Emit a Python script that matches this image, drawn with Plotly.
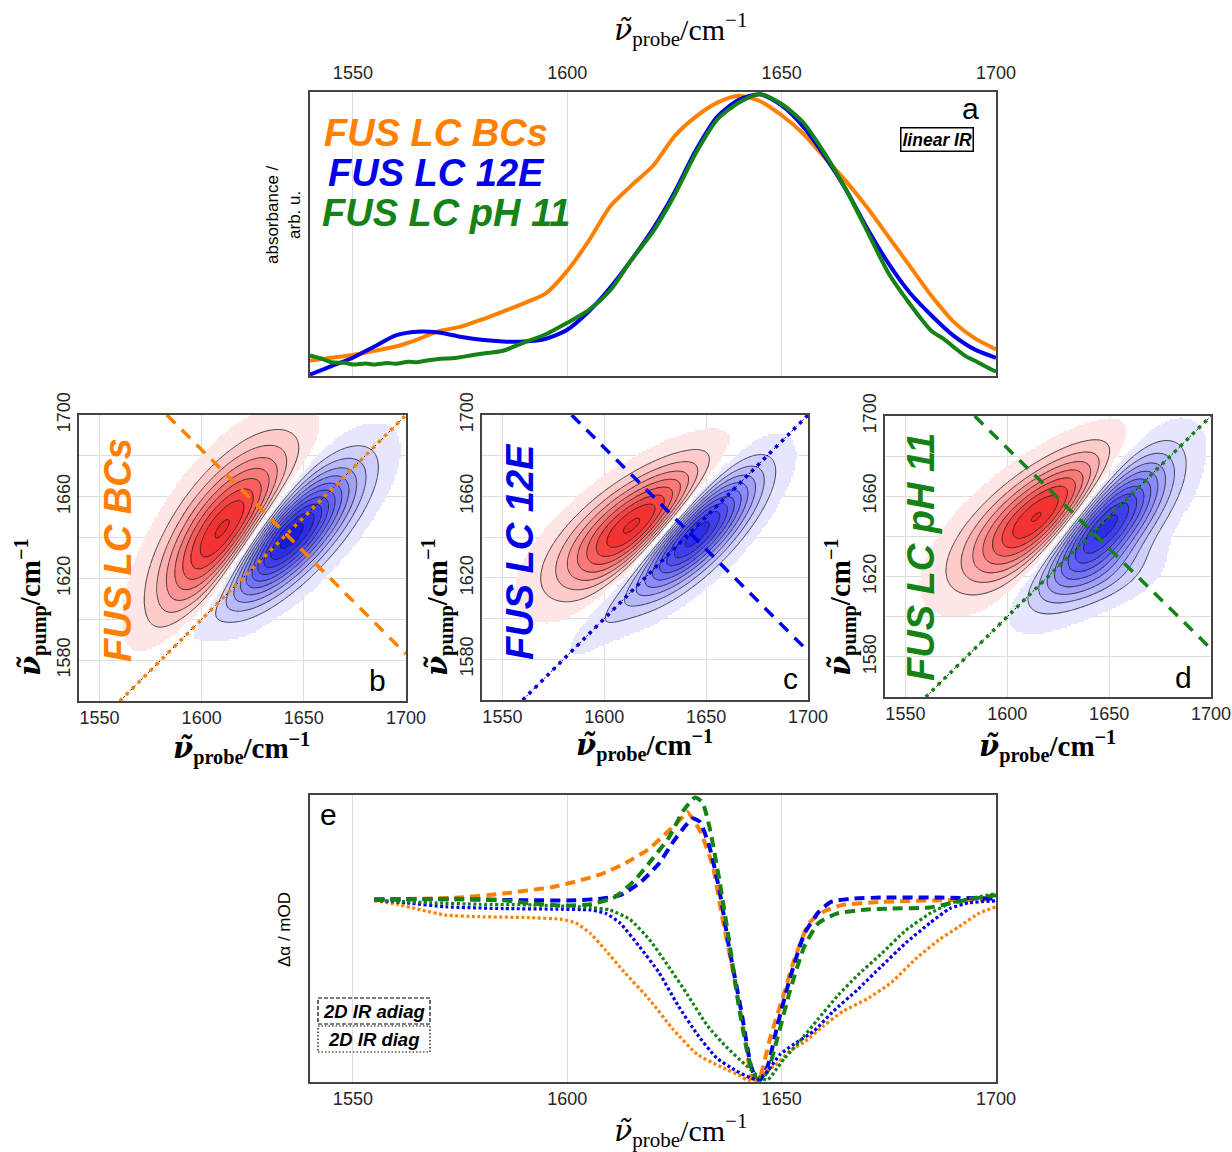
import numpy as np
import plotly.graph_objects as go

# ---------------- colours ----------------
C_BCS = "rgb(255,128,0)"
C_12E = "rgb(0,0,235)"
C_PH11 = "rgb(20,130,20)"

# ---------------- panel a : linear IR (normalised) ----------------
wn_a = [1540, 1545, 1550, 1555, 1560, 1565, 1570, 1575, 1580, 1585, 1590, 1595,
        1600, 1605, 1610, 1615, 1620, 1625, 1630, 1635, 1640, 1645, 1650, 1655,
        1660, 1665, 1670, 1675, 1680, 1685, 1690, 1695, 1700]
abs_bcs = [0.05, 0.06, 0.07, 0.085, 0.10, 0.125, 0.155, 0.17, 0.196, 0.225, 0.255, 0.29,
           0.37, 0.477, 0.60, 0.675, 0.745, 0.85, 0.92, 0.97, 0.995, 0.975, 0.925, 0.86,
           0.775, 0.69, 0.595, 0.49, 0.385, 0.28, 0.19, 0.13, 0.09]
abs_12e = [0.0, 0.03, 0.06, 0.10, 0.14, 0.153, 0.15, 0.135, 0.124, 0.118, 0.118, 0.128,
           0.16, 0.225, 0.31, 0.41, 0.52, 0.65, 0.80, 0.92, 0.98, 1.0, 0.96, 0.885,
           0.78, 0.66, 0.52, 0.395, 0.29, 0.21, 0.14, 0.09, 0.06]
wn_a_ph = [1540, 1543, 1545, 1548, 1550, 1553, 1555, 1558, 1560, 1563, 1565, 1568, 1570,
           1573, 1575, 1578, 1580, 1585, 1590, 1595, 1600, 1605, 1610, 1615, 1620, 1625,
           1630, 1635, 1640, 1645, 1650, 1655, 1660, 1665, 1670, 1675, 1680, 1683, 1685,
           1688, 1690, 1693, 1695, 1698, 1700]
abs_ph11 = [0.068, 0.055, 0.044, 0.042, 0.036, 0.040, 0.036, 0.041, 0.039, 0.046, 0.044,
            0.052, 0.056, 0.058, 0.062, 0.070, 0.074, 0.085, 0.115, 0.144, 0.185, 0.23,
            0.30, 0.41, 0.51, 0.64, 0.79, 0.91, 0.97, 1.0, 0.965, 0.90, 0.79, 0.66, 0.51,
            0.36, 0.25, 0.19, 0.155, 0.125, 0.10, 0.065, 0.05, 0.025, 0.01]

# ---------------- panels b-d : 2D IR peak parameters ----------------
# each peak: centre probe, centre pump, amplitude, sigma major, sigma minor, angle (deg)
peaks_bcs = dict(x0=[1640, 1612, 1596], y0=[1639, 1641, 1596], amp=[-1.0, 0.78, -0.08],
                 smaj=[30, 31, 22], smin=[11, 14, 6], ang=[45, 56, 45])
peaks_12e = dict(x0=[1644, 1618, 1600], y0=[1643, 1646, 1600], amp=[-1.0, 0.76, -0.07],
                 smaj=[27, 30, 20], smin=[10, 12.5, 6], ang=[45, 35, 45])
peaks_ph11 = dict(x0=[1647, 1621, 1650], y0=[1648, 1651, 1620], amp=[-1.0, 0.80, -0.12],
                  smaj=[28, 31, 18], smin=[12, 13, 9], ang=[48, 36, 20])
diag_line = [1560, 1700]
adiag_cross = [1641.5, 1642, 1642]

# ---------------- panel e : diagonal / antidiagonal cuts ----------------
x_ad_bcs = [1555, 1574, 1585, 1596.5, 1602, 1607.8, 1613.4, 1619, 1623.6, 1627, 1628, 1631,
            1634, 1636, 1639, 1641.7, 1643, 1644, 1645, 1647.3, 1650.7, 1653, 1656.4, 1659.8,
            1664, 1673, 1687, 1700]
y_ad_bcs = [0, 0.01, 0.033, 0.07, 0.10, 0.14, 0.20, 0.28, 0.38, 0.46, 0.485, 0.38, 0.18,
            -0.08, -0.44, -0.80, -0.99, -1.0, -0.98, -0.77, -0.51, -0.33, -0.13, -0.067,
            -0.031, -0.013, -0.004, 0.0]
x_ad_12e = [1555, 1574, 1590.8, 1602, 1607.8, 1612.3, 1616.8, 1621.4, 1624.7, 1627.6, 1629.3,
            1631, 1633.2, 1635.5, 1637.7, 1640.6, 1642.8, 1644, 1645, 1646.8, 1649, 1651.9,
            1655.3, 1658.6, 1661.5, 1666.6, 1673.3, 1687, 1700]
y_ad_12e = [0, 0.002, -0.004, -0.004, 0.005, 0.024, 0.09, 0.20, 0.32, 0.41, 0.45, 0.43, 0.29,
            0.05, -0.26, -0.62, -0.92, -0.99, -1.0, -0.92, -0.70, -0.44, -0.19, -0.07, -0.013,
            0.005, 0.011, 0.011, 0.005]
x_ad_ph11 = [1555, 1574, 1585, 1592, 1598.8, 1605.5, 1611.2, 1615.7, 1619, 1623.6, 1627,
             1629.8, 1631.5, 1633.2, 1635.5, 1637.7, 1640, 1642.3, 1644, 1645, 1646.8, 1649,
             1651.9, 1655.3, 1658.6, 1663, 1670, 1675.6, 1684.6, 1689, 1694.8, 1700]
y_ad_ph11 = [0, 0.004, -0.004, -0.022, -0.033, -0.026, 0.015, 0.106, 0.20, 0.34, 0.49, 0.566,
             0.54, 0.40, 0.106, -0.22, -0.59, -0.88, -0.99, -1.0, -0.95, -0.77, -0.51, -0.26,
             -0.13, -0.077, -0.055, -0.05, -0.044, -0.022, 0.005, 0.024]
x_d_bcs = [1555, 1560.3, 1566, 1571.6, 1579.5, 1590.8, 1598.8, 1602, 1605.5, 1608.9, 1613.4,
           1619, 1624.7, 1630.4, 1636, 1640.6, 1641.7, 1644, 1646.2, 1648.5, 1651.9, 1655.3,
           1659.8, 1664.3, 1670, 1675.6, 1681.2, 1686.9, 1691.4, 1696, 1700]
y_d_bcs = [-0.007, -0.026, -0.058, -0.086, -0.095, -0.10, -0.11, -0.13, -0.19, -0.28, -0.405,
           -0.55, -0.72, -0.86, -0.93, -0.98, -1.0, -1.0, -0.95, -0.92, -0.84, -0.79, -0.70,
           -0.62, -0.55, -0.46, -0.33, -0.22, -0.15, -0.077, -0.04]
x_d_12e = [1555, 1562.6, 1571.6, 1585.2, 1596.5, 1605.5, 1609, 1612.3, 1616.8, 1621.4, 1625.9,
           1630.4, 1634.9, 1639.4, 1642.8, 1644.5, 1646.8, 1649.6, 1653, 1657.5, 1662, 1667.7,
           1673.3, 1679, 1684.6, 1689.2, 1693.7, 1700]
y_d_12e = [-0.004, -0.018, -0.04, -0.05, -0.053, -0.058, -0.077, -0.13, -0.26, -0.405, -0.59,
           -0.75, -0.88, -0.95, -0.99, -1.0, -0.95, -0.86, -0.80, -0.73, -0.62, -0.50, -0.37,
           -0.24, -0.13, -0.05, -0.018, -0.007]
x_d_ph11 = [1555, 1568.2, 1579.5, 1592, 1605.5, 1610, 1614.6, 1619.1, 1623.6, 1628.1, 1632.7,
            1637.2, 1641.7, 1645.1, 1646.8, 1648.5, 1650.7, 1654.1, 1658.6, 1663.2, 1667.7,
            1673.3, 1679, 1684.6, 1689.2, 1693.7, 1700]
y_d_ph11 = [-0.004, -0.018, -0.026, -0.03, -0.044, -0.058, -0.11, -0.22, -0.37, -0.53, -0.70,
            -0.82, -0.92, -0.99, -1.0, -0.95, -0.88, -0.79, -0.66, -0.53, -0.42, -0.30, -0.17,
            -0.077, -0.022, 0.005, 0.033]

# ---------------- helpers ----------------
W, H = 1232, 1152
def px(x):
    return x / W
def py(y):
    return 1 - y / H

probe_grid = np.arange(1540, 1700.01, 1.0)
pump_grid = np.arange(1560, 1700.01, 1.0)

def spectrum2d(p):
    X, Y = np.meshgrid(probe_grid, pump_grid)
    Z = np.zeros_like(X)
    for x0, y0, a, sM, sm, ang in zip(p["x0"], p["y0"], p["amp"], p["smaj"], p["smin"], p["ang"]):
        t = np.deg2rad(ang)
        dx, dy = X - x0, Y - y0
        u = dx * np.cos(t) + dy * np.sin(t)
        v = -dx * np.sin(t) + dy * np.cos(t)
        Z += a * np.exp(-(u ** 2 / (2 * sM ** 2) + v ** 2 / (2 * sm ** 2)))
    return Z

STEP = 0.08
FIRST = 0.04
def banded(Z):
    a = np.abs(Z)
    n = np.floor((a - FIRST) / STEP)
    Q = np.sign(Z) * (FIRST + STEP * n + STEP / 2)
    Q[a < FIRST] = np.nan
    return Q

fill_scale = [[0.0, "rgb(0,0,225)"], [0.25, "rgb(110,110,250)"], [0.46, "rgb(230,230,255)"],
              [0.5, "rgb(255,255,255)"],
              [0.54, "rgb(255,230,230)"], [0.79, "rgb(246,60,60)"], [1.0, "rgb(225,0,0)"]]

TICKFONT = dict(family="Liberation Sans, Arial", size=18, color="#262626")
SERIF = "Liberation Serif, DejaVu Serif, serif"
SANS = "Liberation Sans, Arial, sans-serif"
GRID = "#dedede"
FRAME = "#444444"

fig = go.Figure()

# panel a
for x, y, c in [(wn_a, abs_bcs, C_BCS), (wn_a, abs_12e, C_12E), (wn_a_ph, abs_ph11, C_PH11)]:
    fig.add_trace(go.Scatter(x=x, y=y, mode="lines", line=dict(color=c, width=4, shape="spline", smoothing=0.7),
                             xaxis="x", yaxis="y", showlegend=False, hoverinfo="skip"))

# panels b-d
panels = [(peaks_bcs, C_BCS, "2"), (peaks_12e, C_12E, "3"), (peaks_ph11, C_PH11, "4")]
for (p, col, k), xc in zip(panels, adiag_cross):
    Z = spectrum2d(p)
    fig.add_trace(go.Heatmap(x=probe_grid, y=pump_grid, z=banded(Z), xaxis="x" + k, yaxis="y" + k,
                             colorscale=fill_scale, zmin=-1, zmax=1, showscale=False, hoverinfo="skip"))
    for s, e in [(-0.92, -0.12), (0.12, 0.92)]:
        fig.add_trace(go.Contour(x=probe_grid, y=pump_grid, z=Z, xaxis="x" + k, yaxis="y" + k,
                                 showscale=False, autocontour=False,
                                 contours=dict(start=s, end=e, size=STEP, coloring="none"),
                                 line=dict(color="#1a1a1a", width=0.8), hoverinfo="skip"))
    fig.add_trace(go.Scatter(x=diag_line, y=diag_line, mode="lines", xaxis="x" + k, yaxis="y" + k,
                             line=dict(color="black", width=1, dash="2px,3px"), showlegend=False, hoverinfo="skip"))
    fig.add_trace(go.Scatter(x=diag_line, y=diag_line, mode="lines", xaxis="x" + k, yaxis="y" + k,
                             line=dict(color=col, width=3.5, dash="3.5px,5px"), showlegend=False, hoverinfo="skip"))
    ad_x = [2 * xc - 1700, 1700]
    ad_y = [1700, 2 * xc - 1700]
    fig.add_trace(go.Scatter(x=ad_x, y=ad_y, mode="lines", xaxis="x" + k, yaxis="y" + k,
                             line=dict(color=col, width=3.5, dash="12px,9px"), showlegend=False, hoverinfo="skip"))

# panel e
for x, y, c in [(x_ad_bcs, y_ad_bcs, C_BCS), (x_ad_12e, y_ad_12e, C_12E), (x_ad_ph11, y_ad_ph11, C_PH11)]:
    fig.add_trace(go.Scatter(x=x, y=y, mode="lines", xaxis="x5", yaxis="y5", showlegend=False, hoverinfo="skip",
                             line=dict(color=c, width=4, dash="10px,6px", shape="spline", smoothing=0.5)))
for x, y, c in [(x_d_bcs, y_d_bcs, C_BCS), (x_d_12e, y_d_12e, C_12E), (x_d_ph11, y_d_ph11, C_PH11)]:
    fig.add_trace(go.Scatter(x=x, y=y, mode="lines", xaxis="x5", yaxis="y5", showlegend=False, hoverinfo="skip",
                             line=dict(color=c, width=3.2, dash="3px,2.5px", shape="spline", smoothing=0.5)))

# ---------------- axes ----------------
common_x = dict(range=[1540, 1700], tickvals=[1550, 1600, 1650, 1700], showgrid=True, gridcolor=GRID,
                gridwidth=1, showline=True, mirror=True, linecolor=FRAME, linewidth=1.5, ticks="",
                tickfont=TICKFONT, zeroline=False, automargin=False)
layout = dict(
    template="none",
    width=W, height=H, margin=dict(l=0, r=0, t=0, b=0, pad=0, autoexpand=False),
    paper_bgcolor="white", plot_bgcolor="white", showlegend=False,
    xaxis=dict(domain=[px(310), px(996)], anchor="y", side="top", ticklabelstandoff=4, **common_x),
    yaxis=dict(domain=[py(376), py(92)], anchor="x", range=[-0.005, 1.008], showticklabels=False,
               showgrid=False, zeroline=False, showline=True, mirror=True, linecolor=FRAME, linewidth=1.5,
               ticks="", automargin=False),
    xaxis5=dict(domain=[px(310), px(996)], anchor="y5", **common_x),
    yaxis5=dict(domain=[py(1082), py(795)], anchor="x5", range=[-1.012, 0.58], showticklabels=False,
                showgrid=False, zeroline=False, showline=True, mirror=True, linecolor=FRAME, linewidth=1.5,
                ticks="", automargin=False),
)
dom2d = {"2": ([79, 406], [701, 415]), "3": ([482, 808], [700, 415]), "4": ([885, 1211], [697, 416])}
for k, (dx, dy) in dom2d.items():
    layout["xaxis" + k] = dict(domain=[px(dx[0]), px(dx[1])], anchor="y" + k, **common_x)
    layout["yaxis" + k] = dict(domain=[py(dy[0]), py(dy[1])], anchor="x" + k, range=[1560, 1700],
                               tickvals=[1580, 1620, 1660, 1700], tickangle=-90, showgrid=True, gridcolor=GRID,
                               minor=dict(tick0=1560, dtick=20, showgrid=True, gridcolor=GRID, ticks=""),
                               showline=True, mirror=True, linecolor=FRAME, linewidth=1.5, ticks="",
                               tickfont=TICKFONT, zeroline=False, automargin=False)
fig.update_layout(**layout)

# ---------------- annotations ----------------
ann = []
def A(x, y, text, size, color="black", family=SANS, angle=0, xanchor="center", **kw):
    ann.append(dict(x=px(x), y=py(y), xref="paper", yref="paper", text=text, showarrow=False,
                    font=dict(size=size, color=color, family=family), textangle=angle,
                    xanchor=xanchor, yanchor="middle", **kw))

NU = "<span style='font-family:DejaVu Serif'><i>ν\u0303</i></span>"
probe_t = NU + "<sub>probe</sub>/cm<sup>\u22121</sup>"
pump_t = NU + "<sub>pump</sub>/cm<sup>\u22121</sup>"
A(680, 30, probe_t, 30, family=SERIF)
A(680, 1130, probe_t, 30, family=SERIF)
for xc, yc in [(241, 748), (644, 745), (1047, 746)]:
    A(xc, yc, "<b>" + probe_t + "</b>", 29, family=SERIF)
for xc in [30, 437, 840]:
    A(xc, 607, "<b>" + pump_t + "</b>", 29, family=SERIF, angle=-90)
A(284, 215, "absorbance /<br>arb. u.", 17, angle=-90)
A(284, 930, "Δα / mOD", 17, angle=-90)

A(322, 133, "<b><i>FUS LC BCs</i></b>", 38, color=C_BCS, xanchor="left")
A(326, 173, "<b><i>FUS LC 12E</i></b>", 38, color=C_12E, xanchor="left")
A(320, 213, "<b><i>FUS LC pH 11</i></b>", 38, color=C_PH11, xanchor="left")
A(970, 108, "a", 30)
A(937, 139, "<b><i>linear IR</i></b>", 17.5, bordercolor="black", borderwidth=1.5, borderpad=1, bgcolor="white")

A(118, 550, "<b><i>FUS LC BCs</i></b>", 38, color=C_BCS, angle=-90)
A(520, 552, "<b><i>FUS LC 12E</i></b>", 38, color=C_12E, angle=-90)
A(921, 557, "<b><i>FUS LC pH 11</i></b>", 38, color=C_PH11, angle=-90)
A(377, 680, "b", 30)
A(790, 678, "c", 30)
A(1183, 677, "d", 30)

A(328, 814, "e", 30)
A(374, 1011, "<b><i>2D IR adiag</i></b>", 18.5)
A(374, 1039, "<b><i>2D IR diag</i></b>", 18.5)
fig.update_layout(annotations=ann)

fig.update_layout(shapes=[
    dict(type="rect", xref="paper", yref="paper", x0=px(318), x1=px(430), y0=py(1024), y1=py(998),
         line=dict(color="black", width=1.2, dash="4px,2px")),
    dict(type="rect", xref="paper", yref="paper", x0=px(318), x1=px(430), y0=py(1052), y1=py(1026),
         line=dict(color="black", width=1.2, dash="1.5px,2px")),
])

fig.write_html("out.html")
